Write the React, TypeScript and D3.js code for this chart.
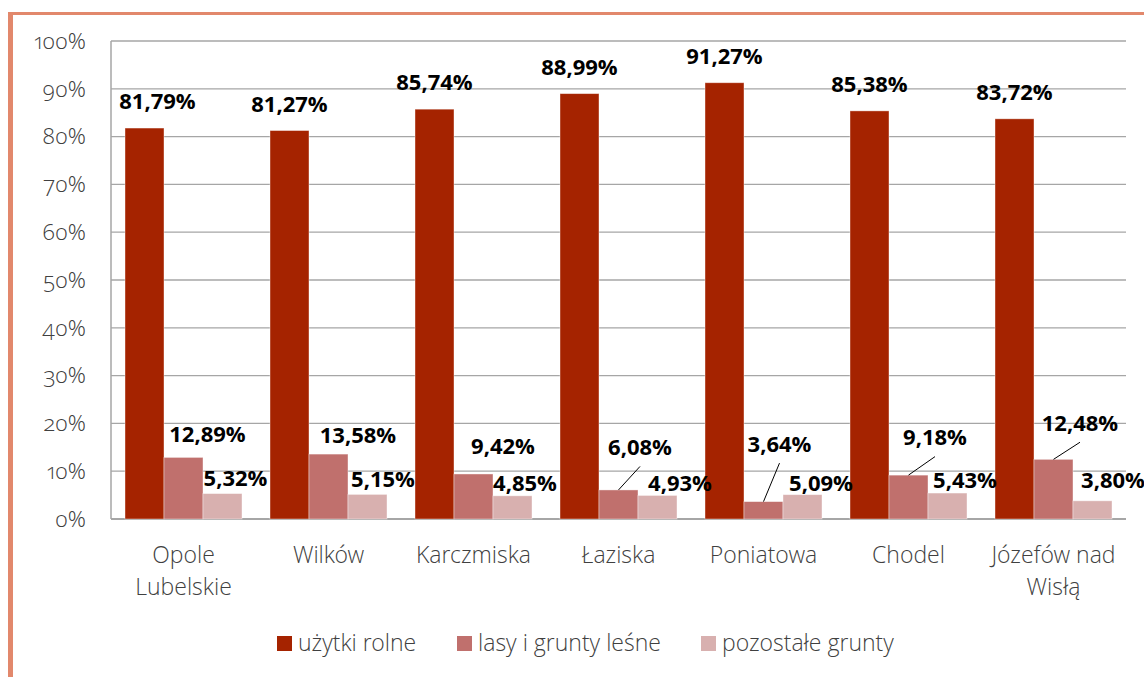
import React from "react";
import * as d3 from "d3";

const categories = ["Opole Lubelskie", "Wilków", "Karczmiska", "Łaziska", "Poniatowa", "Chodel", "Józefów nad Wisłą"];
const categoryLines = [["Opole", "Lubelskie"], ["Wilków"], ["Karczmiska"], ["Łaziska"], ["Poniatowa"], ["Chodel"], ["Józefów nad", "Wisłą"]];
const seriesNames = ["użytki rolne", "lasy i grunty leśne", "pozostałe grunty"];
const uzytkiRolne = [81.79, 81.27, 85.74, 88.99, 91.27, 85.38, 83.72];
const lasyGrunty = [12.89, 13.58, 9.42, 6.08, 3.64, 9.18, 12.48];
const pozostale = [5.32, 5.15, 4.85, 4.93, 5.09, 5.43, 3.8];
const yTicks = [0, 10, 20, 30, 40, 50, 60, 70, 80, 90, 100];

const colors = ["#A52300", "#C0706D", "#D8B0AF"];

// label placement tweaks (pixels relative to bar top-center)
const labelDx = [
  [13, 0, 0, 0, 0, 0, 0],
  [24, 29.5, 29.5, 21.5, 16, 26.5, 26.5],
  [13, 15.5, 12.5, 22.5, 18.5, 17.5, 20.5],
];
const labelDy = [
  [-19, -19, -19, -19, -19, -19, -19],
  [-15.7, -10.8, -19.7, -35, -50, -30, -28.6],
  [-7.6, -7.7, -4.8, -4.4, -3.7, -5, -12.8],
];
const leader = [
  [false, false, false, false, false, false, false],
  [false, false, false, true, true, true, true],
  [false, false, false, false, false, false, false],
];
const legendX = [277, 457, 701];

const fmt = (v: number) => v.toFixed(2).replace(".", ",") + "%";

export default function App() {
  const W = 1144, H = 677;
  const left = 111, right = 1126, top = 41, bottom = 519;
  const series = [uzytkiRolne, lasyGrunty, pozostale];
  const x = d3.scaleBand<string>().domain(categories).range([left, right]).paddingInner(28 / 145).paddingOuter(14 / 145);
  const xs = d3.scaleBand<number>().domain([0, 1, 2]).range([0, x.bandwidth()]).padding(0);
  const y = d3.scaleLinear().domain([0, 100]).range([bottom, top]);
  const lightFont = "'Open Sans Light', 'Lato Light', 'Open Sans', sans-serif";
  const boldFont = "'Open Sans', 'Liberation Sans', sans-serif";

  return (
    <svg width={W} height={H} style={{ position: "absolute", left: 0, top: 0, background: "#fff" }}>
      {/* frame */}
      <rect x={8} y={12} width={W} height={3} fill="#E2886C" />
      <rect x={8} y={12} width={5} height={H} fill="#E2886C" />
      {/* gridlines */}
      {yTicks.map((t) => (
        <line key={"g" + t} x1={left} x2={right} y1={y(t)} y2={y(t)} stroke="#A6A6A6" strokeWidth={1.3} />
      ))}
      <line x1={left} x2={left} y1={top} y2={bottom} stroke="#A6A6A6" strokeWidth={1.5} />
      <line x1={left} x2={right} y1={bottom} y2={bottom} stroke="#A6A6A6" strokeWidth={2} />
      {/* y tick labels */}
      {yTicks.map((t) => (
        <text key={"t" + t} x={86} y={y(t)} dy="0.35em" textAnchor="end" fontFamily={lightFont} fontWeight={300} fontSize={22.5} fill="#404040" style={{ fontVariantNumeric: "oldstyle-nums" }}>
          {t}%
        </text>
      ))}
      {/* bars */}
      {categories.map((c, i) => (
        <g key={c}>
          {series.map((s, k) => (
            <rect key={k} x={(x(c) as number) + (xs(k) as number)} y={y(s[i])} width={xs.bandwidth()} height={bottom - y(s[i])} fill={colors[k]} stroke="#ffffff" strokeOpacity={0.5} strokeWidth={0.8} />
          ))}
        </g>
      ))}
      {/* leader lines */}
      {categories.map((c, i) =>
        series.map((s, k) => {
          if (!leader[k][i]) return null;
          const cx = (x(c) as number) + (xs(k) as number) + xs.bandwidth() / 2;
          const ty = y(s[i]);
          return <line key={"l" + i + k} x1={cx} y1={ty} x2={cx + labelDx[k][i]} y2={ty + labelDy[k][i] + 11.5} stroke="#000" strokeWidth={1} />;
        })
      )}
      {/* data labels */}
      {categories.map((c, i) =>
        series.map((s, k) => {
          const cx = (x(c) as number) + (xs(k) as number) + xs.bandwidth() / 2;
          return (
            <text key={"d" + i + k} x={cx + labelDx[k][i]} y={y(s[i]) + labelDy[k][i]} textAnchor="middle" fontFamily={boldFont} fontWeight={700} fontSize={22} fill="#000">
              {fmt(s[i])}
            </text>
          );
        })
      )}
      {/* category labels */}
      {categories.map((c, i) => (
        <text key={"c" + c} x={(x(c) as number) + x.bandwidth() / 2} textAnchor="middle" fontFamily={lightFont} fontWeight={300} fontSize={23} fill="#404040">
          {categoryLines[i].map((ln, j) => (
            <tspan key={j} x={(x(c) as number) + x.bandwidth() / 2} y={562.7 + j * 32}>{ln}</tspan>
          ))}
        </text>
      ))}
      {/* legend */}
      {seriesNames.map((n, k) => (
        <g key={n}>
          <rect x={legendX[k]} y={636} width={15} height={15} fill={colors[k]} />
          <text x={legendX[k] + 21} y={650.5} fontFamily={lightFont} fontWeight={300} fontSize={23} fill="#404040">{n}</text>
        </g>
      ))}
    </svg>
  );
}
